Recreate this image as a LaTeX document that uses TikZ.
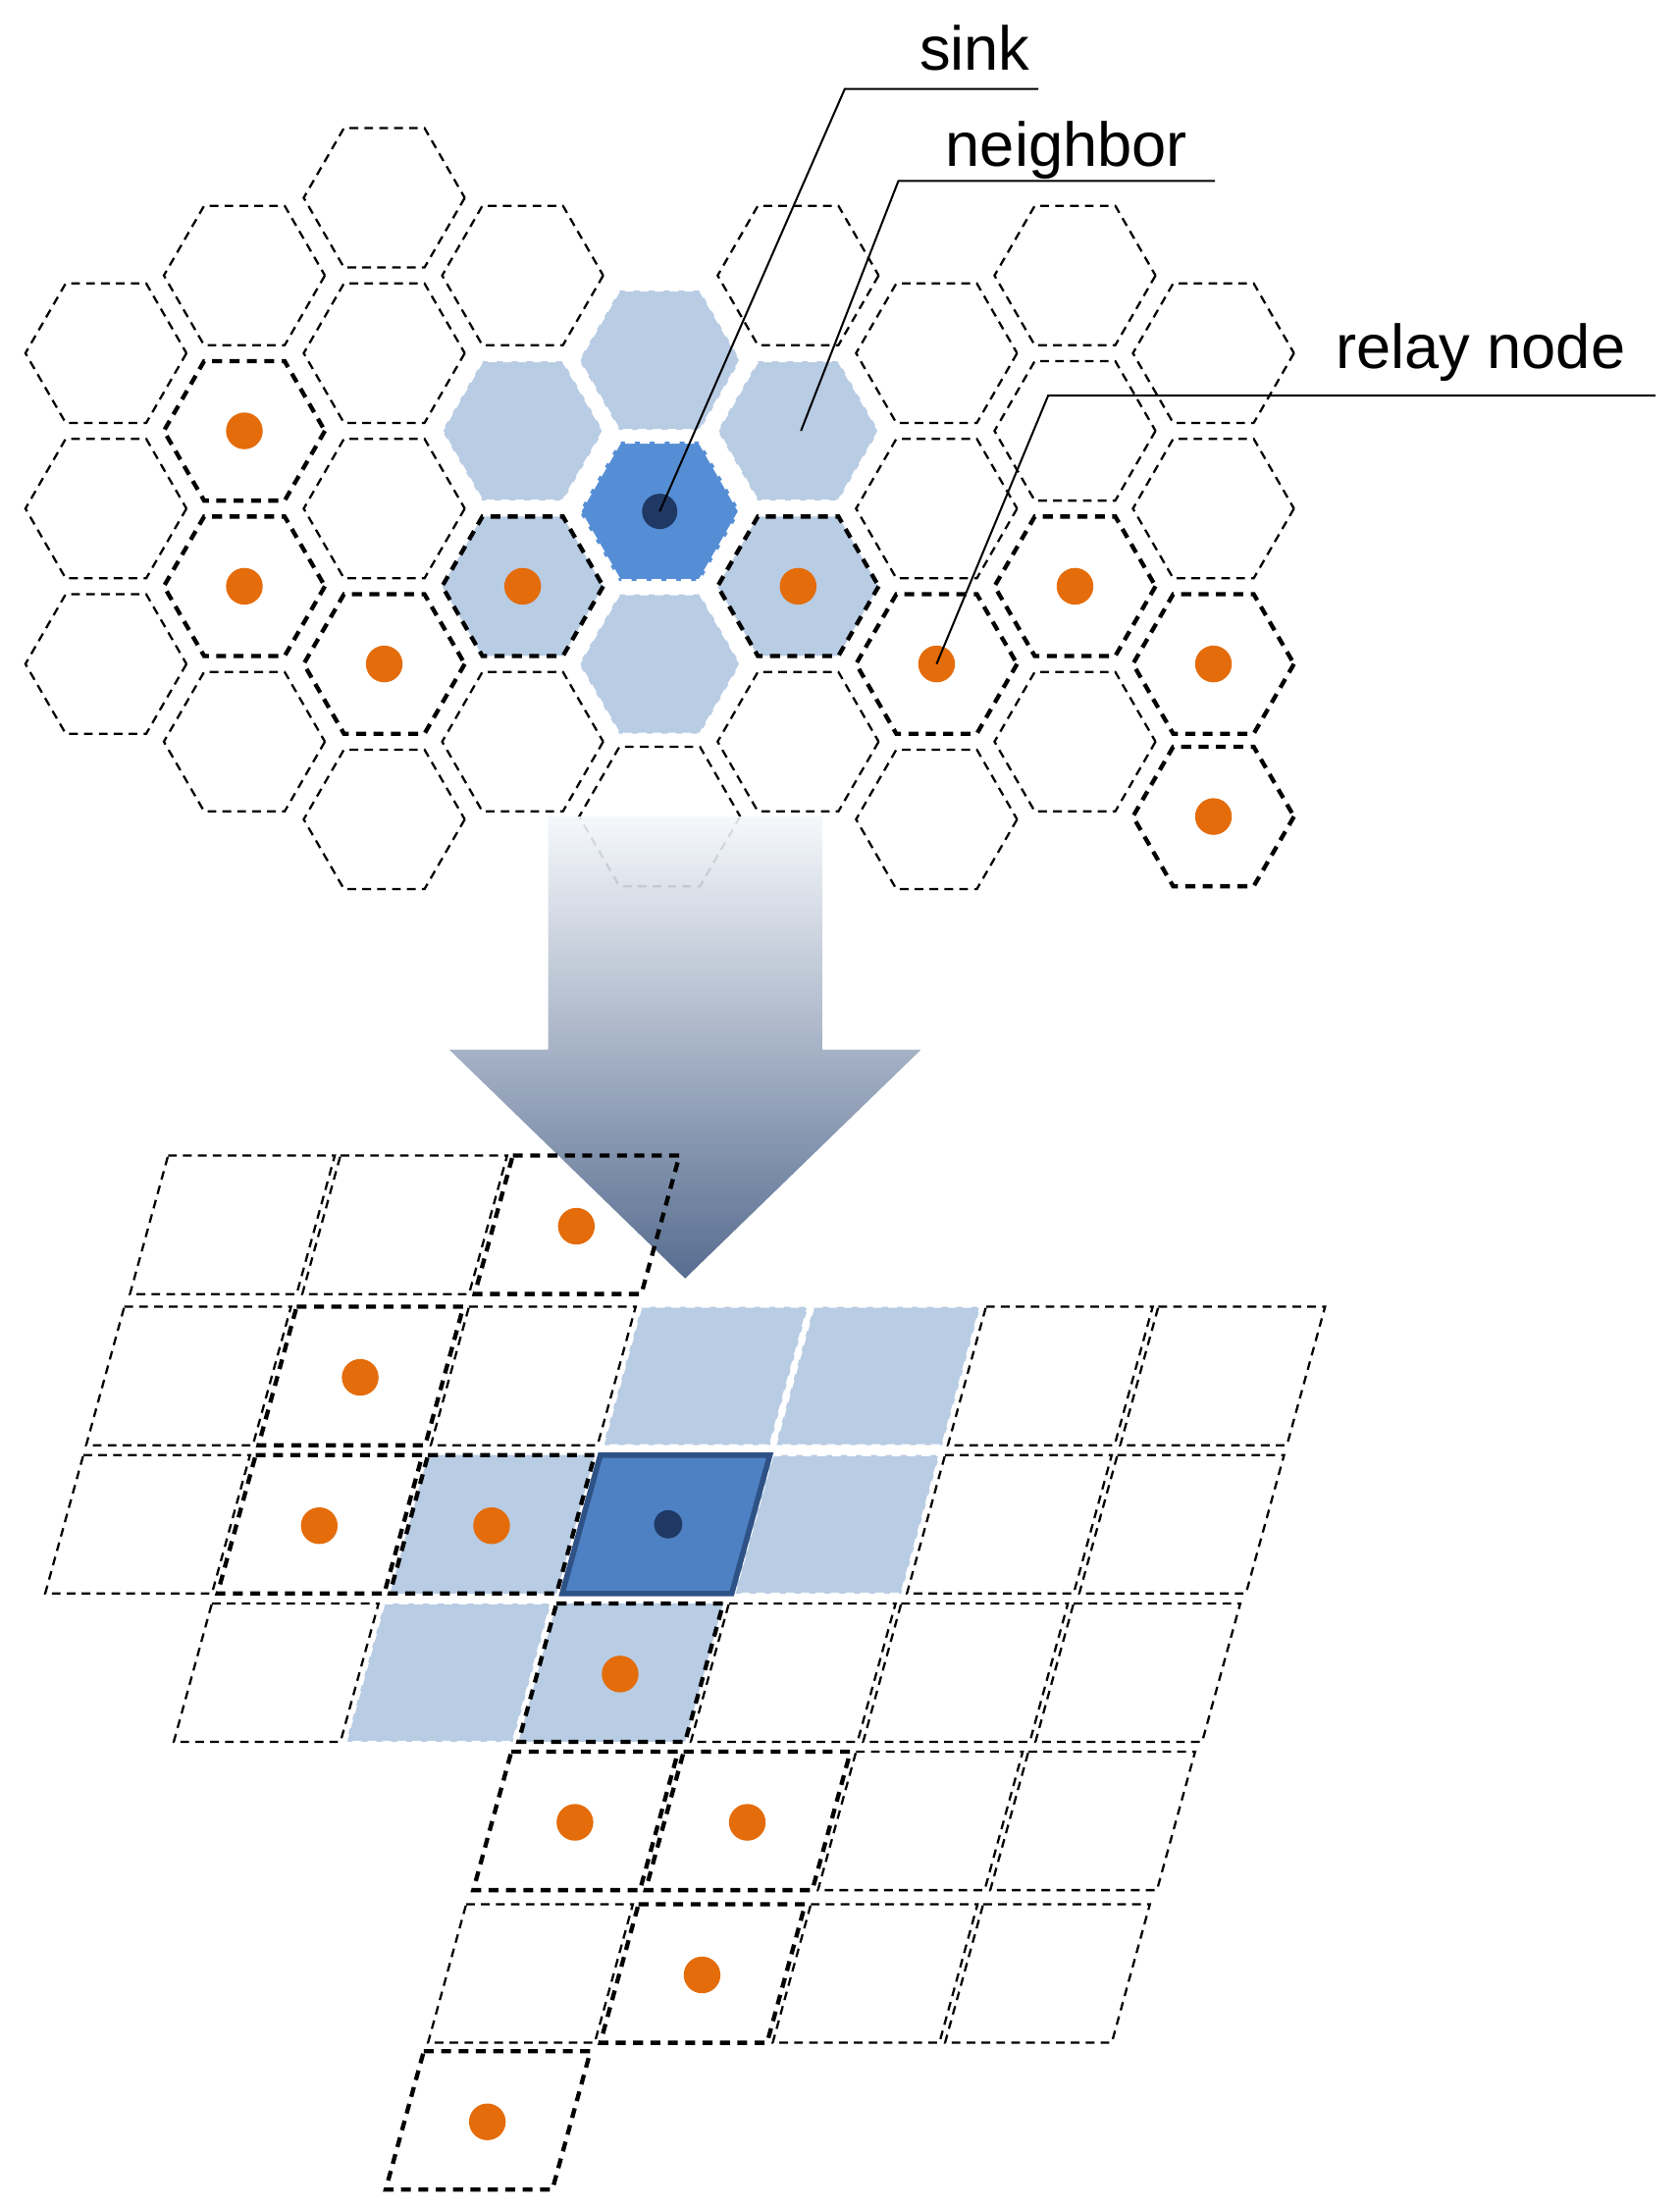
\documentclass[tikz,border=0pt]{standalone}
\usepackage{fontspec}
\setmainfont{Liberation Sans}
\begin{document}
\begin{tikzpicture}[x=0.02cm,y=-0.02cm,
 d/.style={draw=black,line width=0.9pt,dash pattern=on 3.5pt off 2.5pt},
 b/.style={draw=black,line width=1.7pt,dash pattern=on 4pt off 3pt},
 n/.style={fill=nb,draw=white,line width=0.8pt,dash pattern=on 3.5pt off 2.5pt},
 nbb/.style={fill=nb,draw=black,line width=1.7pt,dash pattern=on 4pt off 3pt},
 s/.style={fill=sk,draw=white,line width=1.6pt,dash pattern=on 4pt off 2pt},
 relay/.style={circle,fill=or,inner sep=0pt,minimum size=0.52cm},
 lbl/.style={font=\fontsize{25}{30}\selectfont,inner sep=0pt},
 lead/.style={draw=black,line width=0.8pt}]
\definecolor{nb}{HTML}{B8CCE4}
\definecolor{sk}{HTML}{558ED5}
\definecolor{or}{HTML}{E46C0A}
\definecolor{dk}{HTML}{1F3864}
\useasboundingbox (0,0) rectangle (1189,1563);
% hex grid
\foreach \x/\y/\s in {75/250/d,75/360/d,75/470/d,
 173/195/d,173/305/b,173/415/b,173/525/d,
 272/140/d,272/250/d,272/360/d,272/470/b,272/580/d,
 370/195/d,370/305/n,370/415/nbb,370/525/d,
 467/255/n,467/362/s,467/470/n,467/578/d,
 565/195/d,565/305/n,565/415/nbb,565/525/d,
 663/250/d,663/360/d,663/470/b,663/580/d,
 761/195/d,761/305/d,761/415/b,761/525/d,
 859/250/d,859/360/d,859/470/b,859/578/b}
 {\draw[\s] (\x,\y) +(0:57) -- +(60:57) -- +(120:57) -- +(180:57) -- +(240:57) -- +(300:57) -- cycle;}
\foreach \x/\y [count=\i] in {173/305,173/415,272/470,370/415,565/415,663/470,761/415,859/470,859/578}
 {\node[relay] (h\i) at (\x,\y) {};}
\node[circle,fill=dk,inner sep=0pt,minimum size=0.5cm] (sinkdot) at (467,362) {};
\coordinate (nbpt) at (567,305);
% arrow
\shade[top color=white!85!nb,middle color=nb,bottom color=dk!75!nb,fill opacity=0.9]
 (388,578) -- (582,578) -- (582,743) -- (652,743) -- (485,905) -- (318,743) -- (388,743) -- cycle;
% labels
\node[lbl,anchor=base] (lsink) at (690,50) {sink};
\node[lbl,anchor=base] (lnb) at (755,118) {neighbor};
\node[lbl,anchor=base] (lrelay) at (1048,261) {relay node};
\coordinate (u1) at (598,63); \coordinate (u1e) at (735,63);
\coordinate (u2) at (636,128); \coordinate (u2e) at (860,128);
\coordinate (u3) at (742,280); \coordinate (u3e) at (1172,280);
\draw[lead] (u1e) -- (u1) -- (sinkdot.center);
\draw[lead] (u2e) -- (u2) -- (nbpt);
\draw[lead] (u3e) -- (u3) -- (h6.center);
% parallelogram grid
\foreach \x/\y/\s in {119/818/d,241/818/d,363/818/b,
 88/925/d,210/925/b,332/925/d,454/925/n,576/925/n,698/925/d,820/925/d,
 59/1030/d,181/1030/b,303/1030/nbb,547/1030/n,669/1030/d,791/1030/d,
 150/1135/d,272/1135/n,394/1135/nbb,516/1135/d,638/1135/d,760/1135/d,
 362/1240/b,484/1240/b,606/1240/d,728/1240/d,
 330/1348/d,452/1348/b,574/1348/d,696/1348/d,
 300/1452/b}
 {\draw[\s] (\x,\y) -- ++(118,0) -- ++(-27,98) -- ++(-118,0) -- cycle;}
\draw[fill=sk!85!dk,draw=dk!70!sk,line width=2.2pt] (425,1030) -- ++(120,0) -- ++(-27,98) -- ++(-120,0) -- cycle;
\node[circle,fill=dk,inner sep=0pt,minimum size=0.4cm] (psink) at (473,1079) {};
\foreach \x/\y [count=\i] in {363/818,210/925,181/1030,303/1030,394/1135,362/1240,484/1240,452/1348,300/1452}
 {\node[relay] (p\i) at ({\x+45},{\y+50}) {};}
\end{tikzpicture}
\end{document}
